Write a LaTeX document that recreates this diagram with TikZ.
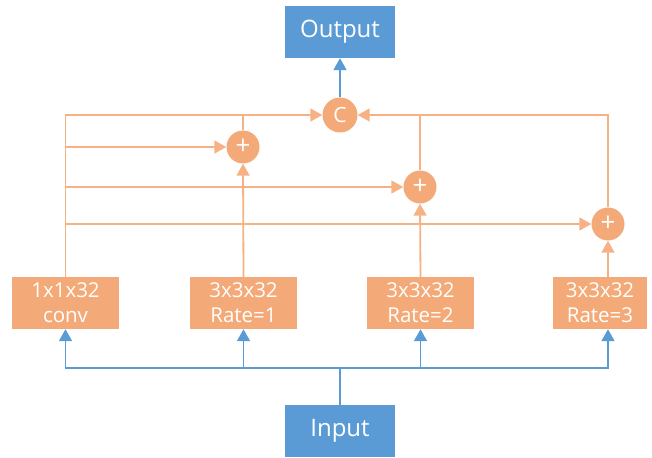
\documentclass[tikz,border=0pt]{standalone}
\usepackage{fontspec}
\setmainfont{Open Sans}
\usetikzlibrary{arrows.meta,calc}
\definecolor{org}{HTML}{F4AA78}
\definecolor{orgl}{HTML}{F6B285}
\definecolor{blu}{HTML}{5B9BD5}
\begin{document}
\begin{tikzpicture}[x=1pt,y=-1pt,
  bluebox/.style={draw=none,fill=blu,minimum width=110pt,minimum height=52pt,inner sep=0pt,text=white,font=\fontsize{24}{26}\selectfont},
  convbox/.style={draw=none,fill=org,minimum height=52pt,inner sep=0pt,text=white,align=center,font=\fontsize{20.5}{25}\selectfont},
  opnode/.style={circle,fill=org,minimum size=33pt,inner sep=0pt,text=white},
  plusnode/.style={opnode,font=\fontsize{26}{26}\selectfont},
  oline/.style={draw=orgl,line width=1.8pt},
  bline/.style={draw=blu,line width=1.8pt},
  tip/.style={-{Triangle[length=12pt,width=13pt]}}
]
\useasboundingbox (0,0) rectangle (652,457);
\node[bluebox] (out) at (340,32) {Output};
\node[bluebox] (inp) at (340,431) {Input};
\node[opnode,minimum size=35pt,font=\fontsize{21}{22}\selectfont] (cc) at (340,115) {C};
\node[plusnode] (p1) at (243,147) {+};
\node[plusnode] (p2) at (420,187) {+};
\node[plusnode] (p3) at (608,224) {+};
\node[convbox,minimum width=107pt] (b1) at (65.5,303) {1x1x32\\conv};
\node[convbox,minimum width=107pt] (b2) at (243.5,303) {3x3x32\\Rate=1};
\node[convbox,minimum width=107pt] (b3) at (420.5,303) {3x3x32\\Rate=2};
\node[convbox,minimum width=94pt] (b4) at (600,303) {3x3x32\\Rate=3};
% orange connectors
\draw[oline,tip] (b1.north) |- (cc.west);
\draw[oline] (p1.north) -- (p1.north |- cc.west);
\draw[oline,tip] (p3.north) |- (cc.east);
\draw[oline] (p2.north) -- (p2.north |- cc.east);
\draw[oline,tip] (b1.north |- p1.west) -- (p1.west);
\draw[oline,tip] (b1.north |- p2.west) -- (p2.west);
\draw[oline,tip] (b1.north |- p3.west) -- (p3.west);
\draw[oline,tip] (b2.north) -- (p1.south);
\draw[oline,tip] (b3.north) -- (p2.south);
\draw[oline,tip] (b4.north -| p3) -- (p3.south);
% blue connectors
\draw[bline,tip] (cc.north) -- (out.south);
\coordinate (j) at (340,368);
\draw[bline] (inp.north) -- (j);
\draw[bline,tip] (j) -| (b1.south);
\draw[bline,tip] (j) -| (b2.south);
\draw[bline,tip] (j) -| (b3.south);
\draw[bline,tip] (j) -| (b4.south -| p3);
\end{tikzpicture}
\end{document}
